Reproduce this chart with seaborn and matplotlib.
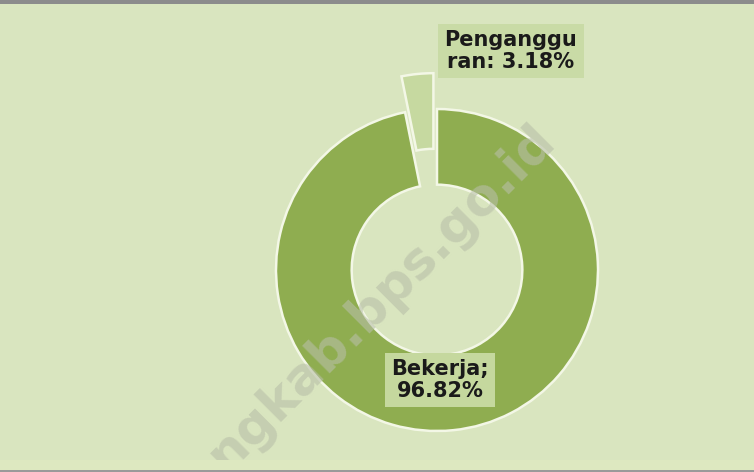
import matplotlib
matplotlib.use("Agg")
import matplotlib.pyplot as plt
import seaborn as sns
from matplotlib.patches import Rectangle

sns.set_theme(style="white")
plt.rcParams['font.family'] = ['DejaVu Sans']

categories = ["Bekerja", "Pengangguran"]
values = [96.82, 3.18]
label_texts = ["Bekerja;\n96.82%", "Penganggu\nran: 3.18%"]
colors = ["#8fad50", "#c6d9a0"]
explode = [0, 36]

W, H = 754, 472
fig = plt.figure(figsize=(W / 100, H / 100), dpi=100)
bg = "#d9e5bf"
fig.patch.set_facecolor(bg)
ax = fig.add_axes([0, 0, 1, 1])
ax.set_facecolor(bg)

cx, cy, R = 437, H - 270, 161
wedges, _ = ax.pie(values, colors=colors, startangle=90, counterclock=False,
                   explode=explode, center=(cx, cy), radius=R,
                   wedgeprops=dict(width=R * 0.47, edgecolor="#f3f7e6", linewidth=1.8),
                   frame=True)
ax.set_xlim(0, W)
ax.set_ylim(0, H)
ax.set_aspect("equal")
ax.axis("off")

# labels
ax.text(440, H - 380, label_texts[0], ha="center", va="center", fontsize=15,
        fontweight="bold", color="#1a1a1a", linespacing=1.12,
        bbox=dict(boxstyle="square,pad=0.3", fc="#c5d89e", ec="none"))
ax.text(511, H - 51, label_texts[1], ha="center", va="center", fontsize=15,
        fontweight="bold", color="#1a1a1a", linespacing=1.12,
        bbox=dict(boxstyle="square,pad=0.3", fc="#c9dba6", ec="none"))

# watermark
ax.text(382, H - 298, "ngkab.bps.go.id", ha="center", va="center", fontsize=37,
        fontweight="bold", color="#b8bfa8", alpha=0.6, rotation=45,
        rotation_mode="anchor")

# border lines
fig.add_artist(Rectangle((0, 1 - 4 / H), 1, 4 / H, transform=fig.transFigure,
                         fc="#8c8c8c", ec="none"))
fig.add_artist(Rectangle((0, 2 / H), 1, 10 / H, transform=fig.transFigure,
                         fc="#dde8c0", ec="none"))
fig.add_artist(Rectangle((0, 0), 1, 2 / H, transform=fig.transFigure,
                         fc="#9a9a9a", ec="none"))

fig.savefig("out.png", dpi=100, facecolor=bg)
